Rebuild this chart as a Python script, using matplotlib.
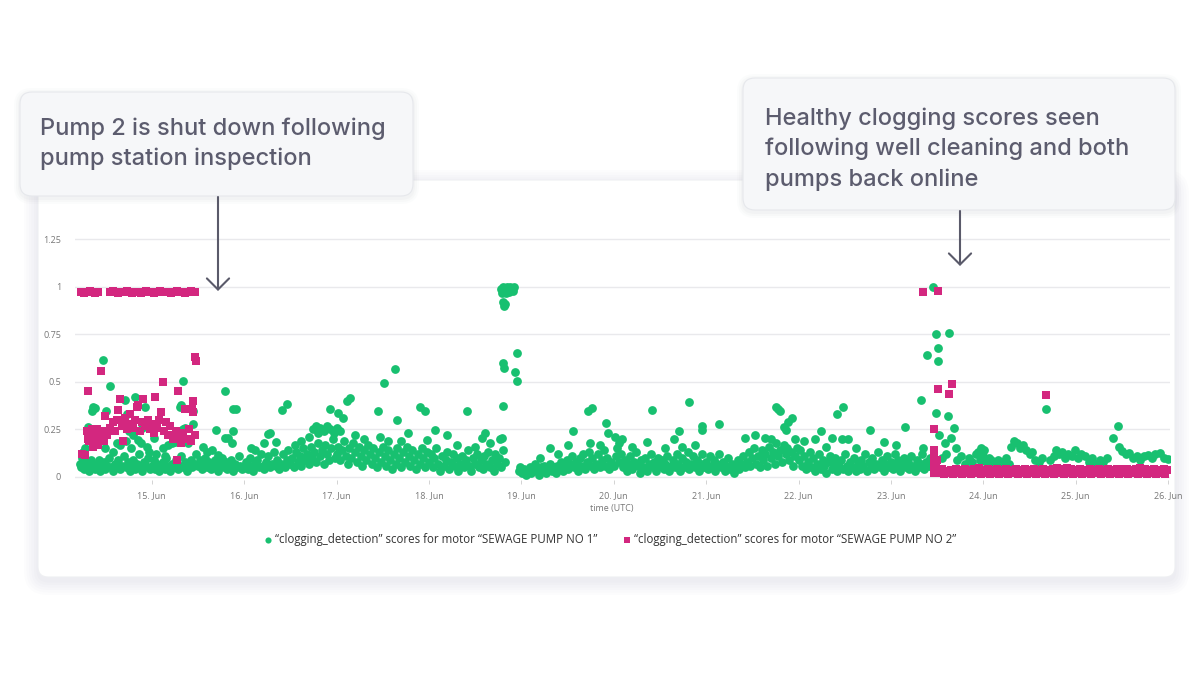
import numpy as np
import pandas as pd
import matplotlib
matplotlib.use("Agg")
import matplotlib.pyplot as plt
import matplotlib.dates as mdates
from matplotlib.patches import FancyBboxPatch, FancyArrowPatch
from matplotlib.ticker import FuncFormatter

# pump 1 scores, time as day of June (fraction = time of day)
p1_days_14 = [14.22, 14.24, 14.25, 14.27, 14.29, 14.30, 14.32, 14.34, 14.35, 14.37,
              14.39, 14.41, 14.43, 14.44, 14.46, 14.48, 14.50, 14.52, 14.54, 14.56,
              14.58, 14.60, 14.62, 14.64, 14.66, 14.68, 14.70, 14.72, 14.74, 14.76,
              14.78, 14.80, 14.82, 14.84, 14.86, 14.88, 14.90, 14.92, 14.94, 14.96,
              14.98,
              14.47, 14.55, 14.39, 14.35, 14.37, 14.51, 14.31, 14.28, 14.50, 14.71,
              14.82, 14.93, 14.73, 14.75, 14.89, 14.85, 14.62, 14.66, 14.42, 14.58,
              14.78, 14.95, 14.26, 14.72, 14.80, 14.88, 14.97]
p1_scores_14 = [0.07, 0.05, 0.10, 0.04, 0.08, 0.06, 0.03, 0.09, 0.05, 0.07,
                0.04, 0.06, 0.09, 0.03, 0.05, 0.08, 0.04, 0.06, 0.10, 0.05,
                0.03, 0.07, 0.05, 0.09, 0.04, 0.06, 0.11, 0.05, 0.08, 0.03,
                0.06, 0.09, 0.04, 0.07, 0.12, 0.05, 0.03, 0.08, 0.06, 0.10,
                0.04,
                0.615, 0.48, 0.365, 0.345, 0.37, 0.345, 0.265, 0.15, 0.15, 0.405,
                0.42, 0.37, 0.33, 0.24, 0.255, 0.195, 0.18, 0.17, 0.20, 0.13,
                0.15, 0.16, 0.13, 0.19, 0.22, 0.18, 0.13]

p1_days_15 = [15.00, 15.02, 15.04, 15.06, 15.08, 15.10, 15.12, 15.14, 15.16, 15.18,
              15.20, 15.22, 15.24, 15.26, 15.28, 15.30, 15.32, 15.34, 15.36, 15.38,
              15.40, 15.42, 15.44, 15.46, 15.48, 15.50, 15.52, 15.54, 15.56, 15.58,
              15.60, 15.62, 15.64, 15.66, 15.68, 15.70, 15.72, 15.74, 15.76, 15.78,
              15.80, 15.82, 15.84, 15.86, 15.88, 15.90, 15.92, 15.94, 15.96, 15.98,
              15.34, 15.32, 15.31, 15.45, 15.45, 15.36, 15.34, 15.02, 15.12, 15.18,
              15.25, 15.39, 15.60, 15.72, 15.70, 15.79, 15.88, 15.91, 15.79, 15.83,
              15.87, 15.88, 15.55, 15.65, 15.05, 15.14, 15.22]
p1_scores_15 = [0.06, 0.09, 0.04, 0.07, 0.03, 0.05, 0.08, 0.04, 0.10, 0.06,
                0.03, 0.07, 0.05, 0.09, 0.04, 0.06, 0.11, 0.05, 0.08, 0.03,
                0.06, 0.09, 0.05, 0.07, 0.12, 0.06, 0.09, 0.04, 0.07, 0.10,
                0.05, 0.08, 0.04, 0.06, 0.09, 0.05, 0.03, 0.07, 0.10, 0.05,
                0.08, 0.04, 0.06, 0.09, 0.03, 0.07, 0.05, 0.11, 0.06, 0.04,
                0.505, 0.38, 0.37, 0.345, 0.28, 0.255, 0.25, 0.205, 0.15, 0.17,
                0.185, 0.18, 0.13, 0.115, 0.245, 0.45, 0.36, 0.36, 0.205, 0.205,
                0.18, 0.24, 0.16, 0.14, 0.12, 0.11, 0.18]

p1_days_16 = [16.00, 16.02, 16.04, 16.06, 16.08, 16.10, 16.12, 16.14, 16.16, 16.18,
              16.20, 16.22, 16.24, 16.26, 16.28, 16.30, 16.32, 16.34, 16.36, 16.38,
              16.40, 16.42, 16.44, 16.46, 16.48, 16.50, 16.52, 16.54, 16.56, 16.58,
              16.60, 16.62, 16.64, 16.66, 16.68, 16.70, 16.72, 16.74, 16.76, 16.78,
              16.80, 16.82, 16.84, 16.86, 16.88, 16.90, 16.92, 16.94, 16.96, 16.98,
              16.08, 16.21, 16.28, 16.26, 16.35, 16.41, 16.46, 16.75, 16.78, 16.82,
              16.86, 16.90, 16.93, 16.97, 16.80, 16.93, 16.12, 16.55, 16.62, 16.70]
p1_scores_16 = [0.05, 0.08, 0.04, 0.10, 0.06, 0.03, 0.07, 0.09, 0.05, 0.12,
                0.06, 0.04, 0.08, 0.11, 0.05, 0.07, 0.13, 0.06, 0.09, 0.04,
                0.07, 0.12, 0.05, 0.09, 0.14, 0.07, 0.10, 0.05, 0.13, 0.08,
                0.11, 0.06, 0.15, 0.09, 0.12, 0.07, 0.16, 0.10, 0.13, 0.08,
                0.18, 0.11, 0.14, 0.07, 0.17, 0.12, 0.09, 0.15, 0.20, 0.10,
                0.155, 0.18, 0.23, 0.225, 0.185, 0.35, 0.385, 0.25, 0.27, 0.26,
                0.24, 0.27, 0.25, 0.23, 0.23, 0.36, 0.14, 0.17, 0.19, 0.21]

p1_days_17 = [17.00, 17.02, 17.04, 17.06, 17.08, 17.10, 17.12, 17.14, 17.16, 17.18,
              17.20, 17.22, 17.24, 17.26, 17.28, 17.30, 17.32, 17.34, 17.36, 17.38,
              17.40, 17.42, 17.44, 17.46, 17.48, 17.50, 17.52, 17.54, 17.56, 17.58,
              17.60, 17.62, 17.64, 17.66, 17.68, 17.70, 17.72, 17.74, 17.76, 17.78,
              17.80, 17.82, 17.84, 17.86, 17.88, 17.90, 17.92, 17.94, 17.96, 17.98,
              17.00, 17.04, 17.02, 17.07, 17.11, 17.15, 17.45, 17.51, 17.63, 17.65,
              17.47, 17.77, 17.90, 17.96, 17.98, 17.30, 17.20, 17.56, 17.70]
p1_scores_17 = [0.12, 0.16, 0.09, 0.14, 0.19, 0.11, 0.07, 0.15, 0.10, 0.18,
                0.13, 0.08, 0.16, 0.11, 0.06, 0.14, 0.09, 0.17, 0.12, 0.07,
                0.15, 0.10, 0.05, 0.13, 0.08, 0.16, 0.11, 0.06, 0.14, 0.09,
                0.04, 0.12, 0.07, 0.15, 0.10, 0.05, 0.13, 0.08, 0.16, 0.11,
                0.06, 0.14, 0.09, 0.04, 0.12, 0.07, 0.15, 0.10, 0.05, 0.13,
                0.26, 0.24, 0.335, 0.31, 0.40, 0.415, 0.345, 0.495, 0.57, 0.30,
                0.21, 0.23, 0.37, 0.345, 0.195, 0.20, 0.22, 0.19, 0.19]

p1_days_18 = [18.00, 18.02, 18.04, 18.06, 18.08, 18.10, 18.12, 18.14, 18.16, 18.18,
              18.20, 18.22, 18.24, 18.26, 18.28, 18.30, 18.32, 18.34, 18.36, 18.38,
              18.40, 18.42, 18.44, 18.46, 18.48, 18.50, 18.52, 18.54, 18.56, 18.58,
              18.60, 18.62, 18.64, 18.66, 18.68, 18.70, 18.72, 18.74, 18.76, 18.78,
              18.80, 18.82,
              18.07, 18.20, 18.41, 18.57, 18.61, 18.77, 18.79, 18.80, 18.30, 18.50,
              18.66,
              18.78, 18.80, 18.82, 18.84, 18.86, 18.88, 18.90, 18.92, 18.79, 18.83,
              18.87, 18.91, 18.80, 18.81, 18.82, 18.80, 18.81, 18.95, 18.93, 18.95]
p1_scores_18 = [0.08, 0.12, 0.05, 0.10, 0.15, 0.07, 0.03, 0.11, 0.06, 0.09,
                0.13, 0.04, 0.08, 0.12, 0.06, 0.10, 0.03, 0.07, 0.11, 0.05,
                0.09, 0.14, 0.06, 0.03, 0.10, 0.07, 0.12, 0.05, 0.09, 0.04,
                0.11, 0.07, 0.13, 0.05, 0.09, 0.03, 0.12, 0.07, 0.10, 0.05,
                0.14, 0.08,
                0.245, 0.22, 0.345, 0.205, 0.23, 0.20, 0.205, 0.375, 0.17, 0.16,
                0.18,
                0.99, 1.0, 0.99, 1.0, 0.99, 1.0, 0.99, 1.0, 0.97, 0.97,
                0.975, 0.98, 0.92, 0.90, 0.91, 0.60, 0.575, 0.65, 0.55, 0.505]

p1_days_19 = [18.97, 18.99, 19.01, 19.03, 19.05, 19.07, 19.09, 19.11, 19.13, 19.15,
              19.17, 19.19, 19.21, 19.23, 19.25, 19.27, 19.29, 19.31, 19.33, 19.35,
              19.37, 19.39, 19.41, 19.43, 19.45, 19.47, 19.49, 19.51, 19.53, 19.55,
              19.57, 19.59, 19.61, 19.63, 19.65, 19.67, 19.69, 19.71, 19.73, 19.75,
              19.77, 19.79, 19.81, 19.83, 19.85, 19.87, 19.89, 19.91, 19.93, 19.95,
              19.97,
              19.31, 19.51, 19.56, 19.72, 19.77, 19.74, 19.92, 19.94, 19.20, 19.40,
              19.85]
p1_scores_19 = [0.03, 0.05, 0.02, 0.04, 0.01, 0.03, 0.05, 0.02, 0.04, 0.07,
                0.03, 0.01, 0.05, 0.03, 0.06, 0.02, 0.04, 0.07, 0.03, 0.05,
                0.02, 0.06, 0.04, 0.08, 0.03, 0.06, 0.09, 0.04, 0.07, 0.11,
                0.05, 0.08, 0.03, 0.10, 0.06, 0.12, 0.04, 0.08, 0.13, 0.06,
                0.10, 0.04, 0.07, 0.12, 0.05, 0.09, 0.14, 0.06, 0.10, 0.04,
                0.08,
                0.155, 0.17, 0.24, 0.345, 0.365, 0.18, 0.285, 0.23, 0.10, 0.12,
                0.17]

p1_days_20 = [20.00, 20.02, 20.04, 20.06, 20.08, 20.10, 20.12, 20.14, 20.16, 20.18,
              20.20, 20.22, 20.24, 20.26, 20.28, 20.30, 20.32, 20.34, 20.36, 20.38,
              20.40, 20.42, 20.44, 20.46, 20.48, 20.50, 20.52, 20.54, 20.56, 20.58,
              20.60, 20.62, 20.64, 20.66, 20.68, 20.70, 20.72, 20.74, 20.76, 20.78,
              20.80, 20.82, 20.84, 20.86, 20.88, 20.90, 20.92, 20.94, 20.96, 20.98,
              20.01, 20.09, 20.06, 20.36, 20.41, 20.56, 20.65, 20.71, 20.74, 20.81,
              20.88, 20.95, 20.96, 20.20]
p1_scores_20 = [0.06, 0.11, 0.15, 0.08, 0.12, 0.05, 0.09, 0.03, 0.07, 0.11,
                0.04, 0.08, 0.13, 0.06, 0.02, 0.09, 0.05, 0.10, 0.03, 0.07,
                0.12, 0.05, 0.08, 0.03, 0.10, 0.06, 0.09, 0.04, 0.07, 0.11,
                0.03, 0.06, 0.09, 0.05, 0.12, 0.07, 0.03, 0.10, 0.05, 0.08,
                0.13, 0.04, 0.07, 0.11, 0.05, 0.09, 0.03, 0.07, 0.12, 0.05,
                0.21, 0.20, 0.18, 0.185, 0.35, 0.15, 0.20, 0.24, 0.16, 0.395,
                0.17, 0.27, 0.245, 0.16]

p1_days_21 = [21.00, 21.02, 21.04, 21.06, 21.08, 21.10, 21.12, 21.14, 21.16, 21.18,
              21.20, 21.22, 21.24, 21.26, 21.28, 21.30, 21.32, 21.34, 21.36, 21.38,
              21.40, 21.42, 21.44, 21.46, 21.48, 21.50, 21.52, 21.54, 21.56, 21.58,
              21.60, 21.62, 21.64, 21.66, 21.68, 21.70, 21.72, 21.74, 21.76, 21.78,
              21.80, 21.82, 21.84, 21.86, 21.88, 21.90, 21.92, 21.94, 21.96, 21.98,
              21.14, 21.42, 21.53, 21.64, 21.76, 21.80, 21.84, 21.89, 21.93, 21.78,
              21.86, 21.70, 21.96]
p1_scores_21 = [0.08, 0.04, 0.11, 0.06, 0.09, 0.03, 0.07, 0.12, 0.05, 0.08,
                0.03, 0.06, 0.10, 0.04, 0.07, 0.02, 0.05, 0.09, 0.04, 0.07,
                0.11, 0.05, 0.08, 0.13, 0.06, 0.10, 0.15, 0.07, 0.11, 0.05,
                0.14, 0.09, 0.12, 0.06, 0.16, 0.10, 0.13, 0.07, 0.18, 0.11,
                0.14, 0.08, 0.17, 0.12, 0.15, 0.09, 0.13, 0.06, 0.11, 0.15,
                0.28, 0.205, 0.22, 0.205, 0.37, 0.345, 0.265, 0.29, 0.31, 0.36,
                0.245, 0.20, 0.20]

p1_days_22 = [22.00, 22.02, 22.04, 22.06, 22.08, 22.10, 22.12, 22.14, 22.16, 22.18,
              22.20, 22.22, 22.24, 22.26, 22.28, 22.30, 22.32, 22.34, 22.36, 22.38,
              22.40, 22.42, 22.44, 22.46, 22.48, 22.50, 22.52, 22.54, 22.56, 22.58,
              22.60, 22.62, 22.64, 22.66, 22.68, 22.70, 22.72, 22.74, 22.76, 22.78,
              22.80, 22.82, 22.84, 22.86, 22.88, 22.90, 22.92, 22.94, 22.96, 22.98,
              22.06, 22.18, 22.24, 22.36, 22.42, 22.48, 22.47, 22.54, 22.77, 22.92,
              22.62, 22.30]
p1_scores_22 = [0.09, 0.14, 0.06, 0.11, 0.04, 0.08, 0.13, 0.05, 0.10, 0.03,
                0.07, 0.12, 0.04, 0.09, 0.06, 0.02, 0.08, 0.11, 0.04, 0.07,
                0.10, 0.03, 0.06, 0.09, 0.04, 0.12, 0.06, 0.03, 0.08, 0.05,
                0.10, 0.03, 0.07, 0.04, 0.09, 0.06, 0.12, 0.03, 0.08, 0.05,
                0.10, 0.04, 0.07, 0.13, 0.05, 0.09, 0.03, 0.07, 0.11, 0.05,
                0.19, 0.20, 0.24, 0.205, 0.33, 0.37, 0.20, 0.20, 0.245, 0.185,
                0.15, 0.16]

p1_days_23 = [23.00, 23.02, 23.04, 23.06, 23.08, 23.10, 23.12, 23.14, 23.16, 23.18,
              23.20, 23.22, 23.24, 23.26, 23.28, 23.30, 23.32, 23.34, 23.36, 23.38,
              23.40, 23.42, 23.44,
              23.05, 23.15, 23.33, 23.35, 23.46, 23.49, 23.63, 23.51, 23.39, 23.51,
              23.49, 23.62, 23.68, 23.52, 23.65, 23.58, 23.70, 23.55, 23.60,
              23.72, 23.76, 23.80, 23.84, 23.88, 23.92, 23.94, 23.96, 23.97]
p1_scores_23 = [0.08, 0.04, 0.12, 0.06, 0.09, 0.03, 0.07, 0.10, 0.05, 0.08,
                0.04, 0.11, 0.06, 0.03, 0.09, 0.05, 0.07, 0.12, 0.04, 0.08,
                0.06, 0.10, 0.05,
                0.17, 0.265, 0.405, 0.155, 1.0, 0.75, 0.76, 0.68, 0.64, 0.61,
                0.335, 0.32, 0.255, 0.22, 0.205, 0.18, 0.15, 0.10, 0.12,
                0.09, 0.11, 0.07, 0.10, 0.08, 0.12, 0.13, 0.09, 0.15]

p1_days_24 = [24.00, 24.01, 24.03, 24.06, 24.08, 24.12, 24.16, 24.20, 24.24, 24.28,
              24.30, 24.33, 24.36, 24.40, 24.43, 24.46, 24.50, 24.53, 24.56, 24.60,
              24.64, 24.68, 24.72, 24.76, 24.79, 24.82, 24.85, 24.88, 24.92, 24.96,
              24.99]
p1_scores_24 = [0.11, 0.14, 0.08, 0.10, 0.09, 0.07, 0.09, 0.08, 0.10, 0.07,
                0.16, 0.19, 0.18, 0.15, 0.17, 0.14, 0.12, 0.13, 0.09, 0.08,
                0.10, 0.36, 0.09, 0.11, 0.14, 0.12, 0.13, 0.10, 0.12, 0.11,
                0.14]

p1_days_25 = [25.02, 25.06, 25.10, 25.14, 25.18, 25.22, 25.26, 25.30, 25.34, 25.40,
              25.46, 25.47, 25.50, 25.54, 25.58, 25.62, 25.66, 25.70, 25.74, 25.78,
              25.82, 25.86, 25.91, 25.95, 26.00]
p1_scores_25 = [0.10, 0.12, 0.11, 0.08, 0.10, 0.07, 0.09, 0.08, 0.10, 0.205,
                0.27, 0.16, 0.135, 0.12, 0.125, 0.10, 0.11, 0.09, 0.11, 0.115,
                0.10, 0.12, 0.125, 0.10, 0.095]

# pump 2 scores
p2_days_bar = [14.24, 14.27, 14.30, 14.33, 14.36, 14.39, 14.42,
               14.55, 14.58, 14.61, 14.64, 14.67, 14.70, 14.73, 14.76, 14.79, 14.82,
               14.85, 14.88, 14.91, 14.94, 14.97, 15.00, 15.03, 15.06, 15.09, 15.12,
               15.15, 15.18, 15.21, 15.24, 15.27, 15.30, 15.33, 15.36, 15.39, 15.42,
               15.45, 15.47]
p2_scores_bar = [0.975, 0.97, 0.975, 0.98, 0.975, 0.97, 0.975,
                 0.975, 0.98, 0.975, 0.97, 0.975, 0.975, 0.98, 0.975, 0.97, 0.975,
                 0.975, 0.97, 0.975, 0.98, 0.975, 0.975, 0.97, 0.975, 0.98, 0.975,
                 0.975, 0.975, 0.97, 0.975, 0.98, 0.975, 0.975, 0.97, 0.975, 0.98,
                 0.975, 0.975]

p2_days_early = [14.25, 14.28, 14.31, 14.45, 14.33, 14.31, 14.35, 14.38, 14.40, 14.42,
                 14.44, 14.46, 14.48, 14.36, 14.50, 14.52, 14.55, 14.58, 14.60, 14.62,
                 14.64, 14.66, 14.68, 14.69, 14.71, 14.73, 14.75, 14.77, 14.80, 14.82,
                 14.84, 14.85, 14.87, 14.89, 14.91, 14.93, 14.96, 14.98, 15.00, 15.02,
                 15.04, 15.06, 15.08, 15.10, 15.12, 15.13, 15.16, 15.18, 15.20, 15.23,
                 15.26, 15.27, 15.29, 15.30, 15.32, 15.34, 15.36, 15.38, 15.40, 15.42,
                 15.45, 15.45, 15.44, 15.47, 15.48, 15.47,
                 14.30, 14.32, 14.34, 14.37, 14.39, 14.41, 14.43, 14.47]
p2_scores_early = [0.12, 0.115, 0.45, 0.555, 0.22, 0.20, 0.25, 0.18, 0.23, 0.17,
                   0.21, 0.24, 0.19, 0.16, 0.32, 0.22, 0.26, 0.29, 0.24, 0.30,
                   0.35, 0.41, 0.27, 0.19, 0.31, 0.25, 0.28, 0.33, 0.26, 0.30,
                   0.37, 0.38, 0.24, 0.29, 0.41, 0.27, 0.30, 0.25, 0.28, 0.23,
                   0.42, 0.26, 0.30, 0.34, 0.50, 0.24, 0.29, 0.22, 0.27, 0.20,
                   0.24, 0.09, 0.45, 0.21, 0.18, 0.23, 0.36, 0.20, 0.25, 0.19,
                   0.40, 0.34, 0.36, 0.63, 0.61, 0.22,
                   0.24, 0.19, 0.21, 0.23, 0.20, 0.25, 0.19, 0.21]

p2_days_late = [23.35, 23.51, 23.51, 23.66, 23.63, 23.47, 24.68,
                23.47, 23.47, 23.47, 23.47, 23.47, 23.49, 23.49, 23.50,
                23.52, 23.55, 23.57, 23.60, 23.62, 23.65, 23.67, 23.70, 23.72, 23.75,
                23.77, 23.80, 23.82, 23.85, 23.87, 23.90, 23.92, 23.95, 23.97, 24.00,
                24.02, 24.05, 24.07, 24.10, 24.12, 24.15, 24.17, 24.20, 24.22, 24.25,
                24.27, 24.30, 24.32, 24.35, 24.37, 24.40, 24.42, 24.45, 24.47, 24.50,
                24.52, 24.55, 24.57, 24.60, 24.62, 24.65, 24.67, 24.70, 24.72, 24.75,
                24.77, 24.80, 24.82, 24.85, 24.87, 24.90, 24.92, 24.95, 24.97, 25.00,
                25.02, 25.05, 25.07, 25.10, 25.12, 25.15, 25.17, 25.20, 25.22, 25.25,
                25.27, 25.30, 25.32, 25.35, 25.37, 25.40, 25.42, 25.45, 25.47, 25.50,
                25.52, 25.55, 25.57, 25.60, 25.62, 25.65, 25.67, 25.70, 25.72, 25.75,
                25.77, 25.80, 25.82, 25.85, 25.87, 25.90, 25.92, 25.95, 25.97, 26.00]
p2_scores_late = [0.975, 0.98, 0.465, 0.49, 0.435, 0.25, 0.43,
                  0.14, 0.11, 0.08, 0.05, 0.02, 0.06, 0.03, 0.09,
                  0.02, 0.04, 0.015, 0.03, 0.02, 0.035, 0.015, 0.04, 0.02, 0.035,
                  0.015, 0.04, 0.02, 0.035, 0.015, 0.04, 0.02, 0.045, 0.015, 0.035,
                  0.02, 0.04, 0.015, 0.035, 0.02, 0.04, 0.015, 0.035, 0.02, 0.04,
                  0.015, 0.035, 0.02, 0.04, 0.015, 0.035, 0.02, 0.04, 0.015, 0.035,
                  0.02, 0.04, 0.015, 0.035, 0.02, 0.04, 0.015, 0.035, 0.02, 0.04,
                  0.015, 0.045, 0.02, 0.04, 0.015, 0.045, 0.02, 0.04, 0.015, 0.035,
                  0.02, 0.04, 0.015, 0.035, 0.02, 0.04, 0.015, 0.035, 0.02, 0.04,
                  0.015, 0.035, 0.02, 0.04, 0.015, 0.035, 0.02, 0.04, 0.015, 0.04,
                  0.02, 0.04, 0.015, 0.035, 0.02, 0.04, 0.015, 0.045, 0.02, 0.04,
                  0.015, 0.035, 0.02, 0.04, 0.015, 0.035, 0.02, 0.04, 0.015, 0.035]

y_ticks = [0, 0.25, 0.5, 0.75, 1, 1.25]
label1 = "\u201cclogging_detection\u201d scores for motor \u201cSEWAGE PUMP NO 1\u201d"
label2 = "\u201cclogging_detection\u201d scores for motor \u201cSEWAGE PUMP NO 2\u201d"
note1 = "Pump 2 is shut down following\npump station inspection"
note2 = "Healthy clogging scores seen\nfollowing well cleaning and both\npumps back online"

GREEN = "#18c070"
PINK = "#d3277f"
NOTE_COLOR = "#5c5c6e"


def to_time(days):
    return pd.Timestamp("2023-06-01") + pd.to_timedelta(np.asarray(days) - 1, unit="D")


p1_days = (p1_days_14 + p1_days_15 + p1_days_16 + p1_days_17 + p1_days_18 + p1_days_19
           + p1_days_20 + p1_days_21 + p1_days_22 + p1_days_23 + p1_days_24 + p1_days_25)
p1_scores = (p1_scores_14 + p1_scores_15 + p1_scores_16 + p1_scores_17 + p1_scores_18
             + p1_scores_19 + p1_scores_20 + p1_scores_21 + p1_scores_22 + p1_scores_23
             + p1_scores_24 + p1_scores_25)
p2_days = p2_days_bar + p2_days_early + p2_days_late
p2_scores = p2_scores_bar + p2_scores_early + p2_scores_late

W, H = 1200, 675
fig = plt.figure(figsize=(12, 6.75), dpi=100)
fig.patch.set_facecolor("white")

# background layer in pixel coords (card + shadow)
bg = fig.add_axes([0, 0, 1, 1], zorder=0)
bg.set_xlim(0, W)
bg.set_ylim(H, 0)
bg.axis("off")
for i, a in enumerate([0.018, 0.018, 0.018, 0.02, 0.022, 0.025]):
    g = 14 - i * 2.5
    bg.add_patch(FancyBboxPatch((38 - g, 180 - g + 4), 1137 + 2 * g, 397 + 2 * g,
                                boxstyle="round,pad=0,rounding_size=%f" % (10 + g),
                                facecolor="#8a8fa0", edgecolor="none", alpha=a))
bg.add_patch(FancyBboxPatch((38, 180), 1137, 397, boxstyle="round,pad=0,rounding_size=10",
                            facecolor="white", edgecolor="#eeeff2", linewidth=0.8))

# main chart
ax = fig.add_axes([75 / W, 1 - 480 / H, (1170 - 75) / W, 252 / H], zorder=1)
ax.set_facecolor("none")
ax.scatter(to_time(p1_days), p1_scores, s=40, marker="o", color=GREEN, linewidths=0,
           label=label1, zorder=3)
ax.scatter(to_time(p2_days), p2_scores, s=32, marker="s", color=PINK, linewidths=0,
           label=label2, zorder=4)

ax.set_xlim(to_time([14.17])[0], to_time([26.02])[0])
ax.set_ylim(-0.016, 1.31)
ax.set_yticks(y_ticks)
ax.yaxis.set_major_formatter(FuncFormatter(lambda v, p: "%g" % v))
ax.xaxis.set_major_locator(mdates.DayLocator())
ax.xaxis.set_major_formatter(mdates.DateFormatter("%d. %b"))
ax.grid(axis="y", color="#e9e9ec", linewidth=1.0, zorder=0)
for s in ax.spines.values():
    s.set_visible(False)
ax.tick_params(axis="y", length=0, pad=10, labelsize=6.5, labelcolor="#777777")
ax.tick_params(axis="x", length=3, width=0.6, color="#cccccc", pad=5, labelsize=6.5,
               labelcolor="#777777")
for lab in ax.get_xticklabels() + ax.get_yticklabels():
    lab.set_family(["Open Sans", "DejaVu Sans"])

fig.text(612 / W, 1 - 508 / H, "time (UTC)", ha="center", va="center", fontsize=6.5,
         color="#777777", family=["Open Sans", "DejaVu Sans"])

fig.legend(loc="center", bbox_to_anchor=(610 / W, 1 - 540 / H), ncol=2, frameon=False,
           markerscale=0.7, handletextpad=0.2, columnspacing=2.2, handlelength=0.8,
           prop={"family": ["Open Sans", "DejaVu Sans"], "size": 8.3},
           labelcolor="#333333")

# annotations on top, pixel coords
top = fig.add_axes([0, 0, 1, 1], zorder=5)
top.set_xlim(0, W)
top.set_ylim(H, 0)
top.axis("off")
top.patch.set_visible(False)

for (x0, y0, w, h) in [(20, 92, 393, 104), (743, 78, 432, 132)]:
    for i, a in enumerate([0.025, 0.03, 0.035]):
        g = 6 - i * 2
        top.add_patch(FancyBboxPatch((x0 - g, y0 - g + 2), w + 2 * g, h + 2 * g,
                                     boxstyle="round,pad=0,rounding_size=%f" % (12 + g),
                                     facecolor="#7d8294", edgecolor="none", alpha=a))
    top.add_patch(FancyBboxPatch((x0, y0), w, h, boxstyle="round,pad=0,rounding_size=12",
                                 facecolor="#f6f7f9", edgecolor="#e6e8ec", linewidth=0.8))

top.text(40, 144, note1, ha="left", va="center", fontsize=17, color=NOTE_COLOR,
         family=["Inter", "DejaVu Sans"], fontweight="medium", linespacing=1.45)
top.text(765, 149, note2, ha="left", va="center", fontsize=17, color=NOTE_COLOR,
         family=["Inter", "DejaVu Sans"], fontweight="medium", linespacing=1.45)

for (x, ya, yb) in [(218, 197, 291), (960, 211, 266)]:
    top.add_patch(FancyArrowPatch((x, ya), (x, yb), arrowstyle="->,head_length=0.4,head_width=0.4",
                                  mutation_scale=20, color="#5a5a6a", linewidth=1.5,
                                  shrinkA=0, shrinkB=0))

fig.savefig("out.png", dpi=100, facecolor="white")
